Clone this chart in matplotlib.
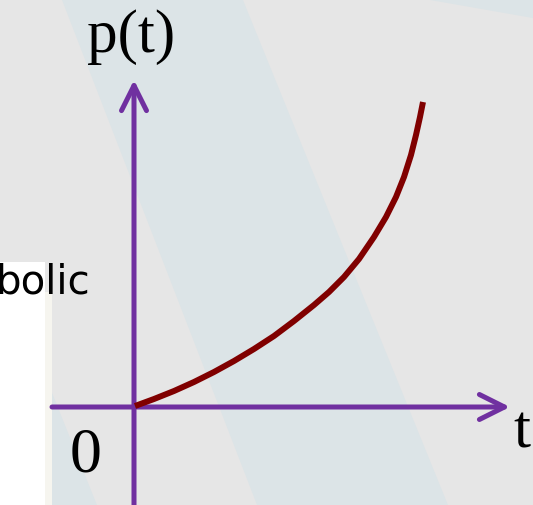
import matplotlib
matplotlib.use("Agg")
import matplotlib.pyplot as plt
from matplotlib.patches import Polygon, Rectangle

# curve (t, p(t)); axes cross at the origin
t_vals = [0.01, 0.20, 0.40, 0.60, 0.80, 1.00, 1.20, 1.40, 1.60, 1.80,
          1.95, 2.10, 2.25, 2.40, 2.52, 2.62, 2.70, 2.77, 2.82, 2.86, 2.89]
p_vals = [0.01, 0.08, 0.16, 0.25, 0.35, 0.46, 0.58, 0.71, 0.86, 1.02,
          1.15, 1.30, 1.48, 1.70, 1.90, 2.10, 2.30, 2.52, 2.72, 2.90, 3.05]

y_label = "p(t)"
x_label = "t"
origin_label = "0"
side_text = "bolic"

purple = "#7030a0"
curve_col = "#800000"
bg = "#e6e6e6"
band = "#dce4e7"

fig = plt.figure(figsize=(5.33, 5.05), dpi=100, facecolor=bg)
ax = fig.add_axes([0, 0, 1, 1])
ax.set_xlim(-1.34, 3.99)
ax.set_ylim(-0.98, 4.07)
ax.axis("off")

# background bands
ax.add_patch(Polygon([(-0.72, 4.07), (1.09, 4.07), (3.14, -0.98), (1.23, -0.98)],
                     closed=True, color=band, lw=0, zorder=0))
ax.add_patch(Polygon([(-2.39, 4.07), (-0.37, -0.98), (-3.5, -0.98), (-3.5, 4.07)],
                     closed=True, color=band, lw=0, zorder=0))
ax.add_patch(Polygon([(2.96, 4.07), (4.5, 3.80), (4.5, 4.2), (2.96, 4.2)],
                     closed=True, color=band, lw=0, zorder=0))

# white box from the neighbouring slide element
ax.add_patch(Rectangle((-1.4, -1.0), 0.51, 2.45, color="white", lw=0, zorder=1))
ax.add_patch(Rectangle((-0.89, -1.0), 0.07, 2.15, color="#f6f5ef", lw=0, zorder=1))
ax.text(-0.44, 1.14, side_text, ha="right", va="baseline", fontsize=29,
        family="DejaVu Sans", color="black", zorder=2)

# axes with open arrow heads
arrow = dict(arrowstyle="->,head_length=1.8,head_width=0.9", lw=3.6,
             color=purple, shrinkA=0, shrinkB=0, capstyle="round",
             joinstyle="round")
ax.annotate("", xy=(3.76, 0), xytext=(-0.82, 0), arrowprops=arrow, zorder=3)
ax.annotate("", xy=(0, 3.27), xytext=(0, -1.0), arrowprops=arrow, zorder=3)

# hyperbolic growth curve
ax.plot(t_vals, p_vals, color=curve_col, lw=4.3, solid_capstyle="butt",
        solid_joinstyle="round", zorder=4)

ax.text(-0.03, 3.70, y_label, ha="center", va="center", fontsize=44,
        family="Liberation Serif")
ax.text(3.79, -0.40, x_label, ha="left", va="baseline", fontsize=44,
        family="Liberation Serif")
ax.text(-0.48, -0.65, origin_label, ha="center", va="baseline", fontsize=46,
        family="Liberation Serif")

fig.savefig("out.png", dpi=100, facecolor=bg)
